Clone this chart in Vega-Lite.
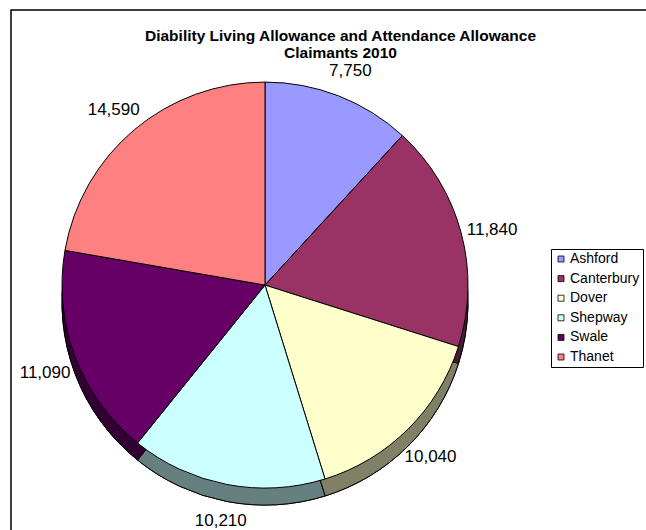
{
  "$schema": "https://vega.github.io/schema/vega-lite/v6.json",
  "autosize": {"type": "none"},
  "width": 635,
  "height": 520,
  "padding": {"left": 11, "top": 10, "right": 0, "bottom": 0},
  "background": "white",
  "view": {"stroke": "black", "strokeWidth": 1.5, "strokeDash": [635, 1155, 520, 1]},
  "config": {
    "font": "Liberation Sans"
  },
  "title": {
    "text": ["Diability Living Allowance and Attendance Allowance", "Claimants 2010"],
    "fontSize": 15.5,
    "fontWeight": "bold",
    "font": "Liberation Sans",
    "color": "black",
    "anchor": "middle",
    "offset": -51,
    "dx": 12,
    "lineHeight": 17
  },
  "data": {
    "values": [
      {"Area": "Ashford", "Claimants": 7750},
      {"Area": "Canterbury", "Claimants": 11840},
      {"Area": "Dover", "Claimants": 10040},
      {"Area": "Shepway", "Claimants": 10210},
      {"Area": "Swale", "Claimants": 11090},
      {"Area": "Thanet", "Claimants": 14590}
    ]
  },
  "encoding": {
    "theta": {"field": "Claimants", "type": "quantitative", "stack": true},
    "order": {"field": "Area", "type": "ordinal", "sort": "ascending"}
  },
  "layer": [
    {
      "mark": {"type": "arc", "outerRadius": 203, "x": {"expr": "width*0.4"}, "y": {"expr": "height*0.529"}, "yOffset": 17, "fill": "black", "stroke": "black", "strokeWidth": 1},
      "encoding": {
        "detail": {"field": "Area", "type": "nominal"}
      }
    },
    {
      "mark": {"type": "arc", "outerRadius": 203, "x": {"expr": "width*0.4"}, "y": {"expr": "height*0.529"}, "yOffset": 17, "fillOpacity": 0.5, "stroke": "black", "strokeWidth": 1},
      "encoding": {
        "color": {"field": "Area", "type": "nominal"}
      }
    },
    {
      "mark": {"type": "arc", "outerRadius": 203, "x": {"expr": "width*0.4"}, "y": {"expr": "height*0.529"}, "stroke": "black", "strokeWidth": 1},
      "encoding": {
        "color": {
          "field": "Area", "type": "nominal",
          "scale": {"domain": ["Ashford", "Canterbury", "Dover", "Shepway", "Swale", "Thanet"],
                    "range": ["#9999FF", "#993366", "#FFFFCC", "#CCFFFF", "#660066", "#FF8080"]},
          "legend": {
            "title": null,
            "orient": "none",
            "legendX": 540,
            "legendY": 239,
            "strokeColor": "black",
            "fillColor": "white",
            "padding": 3,
            "symbolType": "square",
            "symbolSize": 36,
            "symbolStrokeColor": "black",
            "symbolStrokeWidth": 0.8,
            "symbolFillOpacity": 1,
            "symbolOpacity": 1,
            "labelFont": "Liberation Sans",
            "labelFontSize": 14,
            "labelColor": "black",
            "labelOffset": 2,
            "rowPadding": 5.6
          }
        }
      }
    },
    {
      "mark": {"type": "text", "radius": 235, "x": {"expr": "width*0.4"}, "y": {"expr": "height*0.529"}, "dy": 5, "fontSize": 17, "font": "Liberation Sans", "fill": "black", "align": "center", "baseline": "middle"},
      "encoding": {
        "detail": {"field": "Area", "type": "nominal"},
        "text": {"field": "Claimants", "type": "quantitative", "format": ","}
      }
    }
  ]
}
